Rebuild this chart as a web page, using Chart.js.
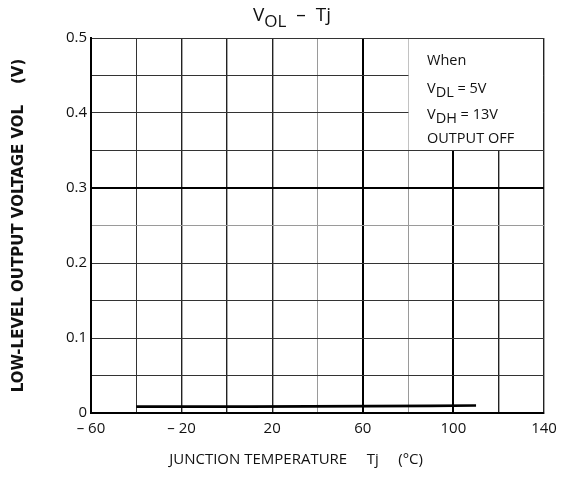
<!DOCTYPE html>
<html lang="en">
<head>
  <meta charset="UTF-8" />
  <title>VOL - Tj</title>
  <script src="https://cdn.jsdelivr.net/npm/chart.js"></script>
  <style>
    body {
      margin: 0;
      background: white;
    }
    #grafico {
      display: block;
    }
  </style>
</head>
<body>
  <canvas id="grafico" width="564" height="479"></canvas>

  <script>
    // Data
    const temps = [-40, 10, 90, 110];
    const volts = [0.0085, 0.0085, 0.0095, 0.010];

    // Ticks
    const xTickLabels = [-60, -20, 20, 60, 100, 140];
    const yTickLabels = [0, 0.1, 0.2, 0.3, 0.4, 0.5];

    // Condition box text
    const noteLines = ["When", ["V", "DL", " = 5V"], ["V", "DH", " = 13V"], "OUTPUT OFF"];

    const FONT = "'Open Sans', sans-serif";

    function xGrid(v) {
      if (v === 60 || v === 100) return { w: 2, c: "#000" };
      if (v === 40 || v === 80) return { w: 1, c: "#9a9a9a" };
      if (v === -40) return { w: 1, c: "#333" };
      return { w: 1.4, c: "#222" };
    }
    function yGrid(v) {
      const r = Math.round(v * 100);
      if (r === 30) return { w: 2, c: "#000" };
      if (r === 25) return { w: 1, c: "#9a9a9a" };
      return { w: 1, c: "#333" };
    }

    // draws text with a subscript part
    function drawSub(ctx, x, y, parts, size, subSize) {
      ctx.textBaseline = "alphabetic";
      ctx.textAlign = "left";
      ctx.font = size + "px " + FONT;
      ctx.fillText(parts[0], x, y);
      x += ctx.measureText(parts[0]).width;
      ctx.font = subSize + "px " + FONT;
      ctx.fillText(parts[1], x, y + size * 0.3);
      x += ctx.measureText(parts[1]).width;
      ctx.font = size + "px " + FONT;
      ctx.fillText(parts[2], x, y);
    }

    const extras = {
      id: "extras",
      afterDatasetsDraw(chart) {
        const ctx = chart.ctx;
        const sx = chart.scales.x, sy = chart.scales.y;
        const l = sx.getPixelForValue(80), r = sx.getPixelForValue(140);
        const t = sy.getPixelForValue(0.5), b = sy.getPixelForValue(0.35);
        ctx.save();
        ctx.fillStyle = "white";
        ctx.fillRect(l + 0.5, t + 1, r - l - 1.5, b - t - 1.5);
        ctx.fillStyle = "#111";
        const ys = [61, 88, 114, 139];
        noteLines.forEach((ln, i) => {
          if (Array.isArray(ln)) {
            drawSub(ctx, 427, ys[i] + 5, ln, 14.5, 14.5);
          } else {
            ctx.font = "14.5px " + FONT;
            ctx.textAlign = "left";
            ctx.textBaseline = "middle";
            ctx.fillText(ln, 427, ys[i]);
          }
        });
        // chart title
        ctx.font = "19px " + FONT;
        const w1 = ctx.measureText("V").width + ctx.measureText("  \u2013  Tj").width;
        ctx.font = "17px " + FONT;
        const w2 = ctx.measureText("OL").width;
        drawSub(ctx, 292 - (w1 + w2) / 2, 21, ["V", "OL", "  \u2013  Tj"], 19, 17);
        ctx.restore();
      }
    };

    const ctx = document.getElementById("grafico").getContext("2d");

    new Chart(ctx, {
      type: "line",
      data: {
        datasets: [{
          data: temps.map((t, i) => ({ x: t, y: volts[i] })),
          borderColor: "#000",
          borderWidth: 2.6,
          pointRadius: 0,
          tension: 0
        }]
      },
      options: {
        responsive: false,
        animation: false,
        layout: { padding: { top: 38, right: 20, left: 0, bottom: 0 } },
        plugins: {
          legend: { display: false },
          tooltip: { enabled: false }
        },
        scales: {
          x: {
            type: "linear",
            min: -60,
            max: 140,
            afterFit(scale) { scale.height = 66; },
            border: { display: true, color: "#000", width: 2 },
            grid: {
              drawTicks: false,
              color: c => xGrid(c.tick.value).c,
              lineWidth: c => xGrid(c.tick.value).w
            },
            ticks: {
              stepSize: 20,
              padding: 7,
              maxRotation: 0,
              autoSkip: false,
              color: "#111",
              font: { family: FONT, size: 15 },
              callback: v => xTickLabels.includes(v) ? (v < 0 ? "\u2013 " + Math.abs(v) : String(v)) : ""
            },
            title: {
              display: true,
              // trailing spaces shift the centred title left, as in the original
              text: "JUNCTION TEMPERATURE     Tj     (\u00B0C)           ",
              color: "#111",
              font: { family: FONT, size: 15 },
              padding: { top: 0, bottom: 10 }
            }
          },
          y: {
            min: 0,
            max: 0.5,
            afterFit(scale) { scale.width = 91; },
            border: { display: true, color: "#000", width: 2 },
            grid: {
              drawTicks: false,
              color: c => yGrid(c.tick.value).c,
              lineWidth: c => yGrid(c.tick.value).w
            },
            ticks: {
              stepSize: 0.05,
              padding: 4,
              autoSkip: false,
              color: "#111",
              font: { family: FONT, size: 15 },
              callback: v => {
                const lab = yTickLabels.find(t => Math.abs(t - v) < 1e-6);
                return lab === undefined ? "" : String(lab);
              }
            },
            title: {
              display: true,
              text: "LOW-LEVEL OUTPUT VOLTAGE VOL    (V)",
              color: "#111",
              font: { family: "'DejaVu Sans', sans-serif", size: 15, weight: "bold" },
              padding: { top: 10, bottom: 0 }
            }
          }
        }
      },
      plugins: [extras]
    });
  </script>
</body>
</html>
